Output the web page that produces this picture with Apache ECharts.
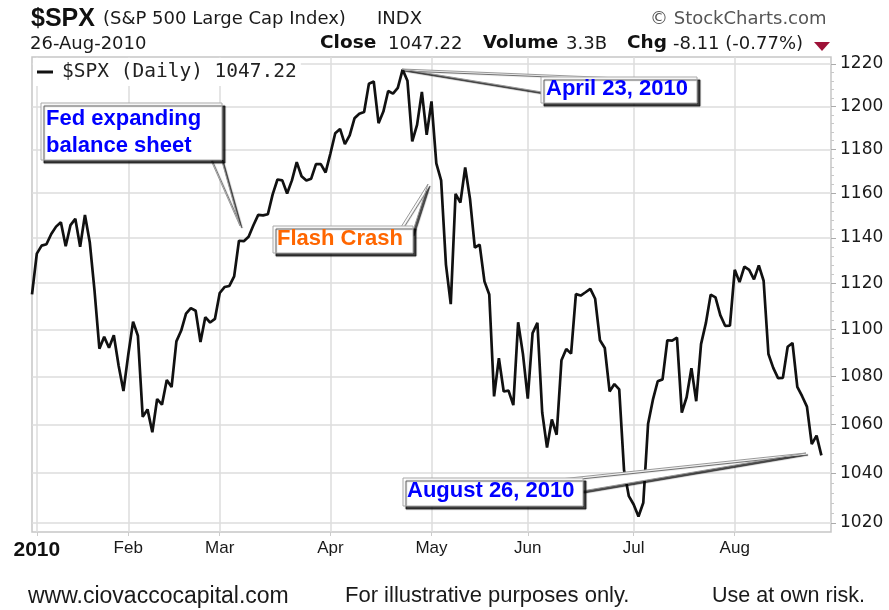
<!DOCTYPE html>
<html><head><meta charset="utf-8">
<script src="https://cdn.jsdelivr.net/npm/echarts@6/dist/echarts.min.js"></script>
<style>html,body{margin:0;padding:0;background:#fff}#c{width:889px;height:610px}</style>
</head><body><div id="c"></div>
<script>
// ---- trading days (day-of-month) ----
const decDays = [31]; // 2009-12-31
const janDays = [4,5,6,7,8,11,12,13,14,15,19,20,21,22,25,26,27,28,29];
const febDays = [1,2,3,4,5,8,9,10,11,12,16,17,18,19,22,23,24,25,26];
const marDays = [1,2,3,4,5,8,9,10,11,12,15,16,17,18,19,22,23,24,25,26,29,30,31];
const aprDays = [1,5,6,7,8,9,12,13,14,15,16,19,20,21,22,23,26,27,28,29,30];
const mayDays = [3,4,5,6,7,10,11,12,13,14,17,18,19,20,21,24,25,26,27,28];
const junDays = [1,2,3,4,7,8,9,10,11,14,15,16,17,18,21,22,23,24,25,28,29,30];
const julDays = [1,2,6,7,8,9,12,13,14,15,16,19,20,21,22,23,26,27,28,29,30];
const augDays = [2,3,4,5,6,9,10,11,12,13,16,17,18,19,20,23,24,25,26];

// ---- $SPX daily closes ----
const decClose = [1115.10];
const janClose = [1132.99,1136.52,1137.14,1141.69,1144.98,1146.98,1136.22,1145.68,1148.46,1136.03,1150.23,1138.04,1116.48,1091.76,1096.78,1092.17,1097.50,1084.53,1073.87];
const febClose = [1089.19,1103.32,1097.28,1063.11,1066.19,1056.74,1070.52,1068.13,1078.47,1075.51,1094.87,1099.51,1106.75,1109.17,1108.01,1094.60,1105.24,1102.94,1104.49];
const marClose = [1115.71,1118.31,1118.79,1122.97,1138.70,1138.50,1140.45,1145.61,1150.24,1149.99,1150.51,1159.46,1166.21,1165.83,1159.90,1165.81,1174.17,1167.72,1165.73,1166.59,1173.22,1173.27,1169.43];
const aprClose = [1178.10,1187.44,1189.44,1182.45,1186.44,1194.37,1196.48,1197.30,1210.65,1211.67,1192.13,1197.52,1207.17,1205.94,1208.67,1217.28,1212.05,1183.71,1191.36,1206.78,1186.69];
const mayClose = [1202.26,1173.60,1165.87,1128.15,1110.88,1159.73,1155.79,1171.67,1157.44,1135.68,1136.94,1120.80,1115.05,1071.59,1087.69,1073.65,1074.03,1067.95,1103.06,1089.41];
const junClose = [1070.71,1098.38,1102.83,1064.88,1050.47,1062.00,1055.69,1086.84,1091.60,1089.63,1115.23,1114.61,1116.04,1117.51,1113.20,1095.31,1092.04,1073.69,1076.76,1074.57,1041.24,1030.71];
const julClose = [1027.37,1022.58,1028.06,1060.27,1070.25,1077.96,1078.75,1095.34,1095.17,1096.48,1064.88,1071.25,1083.48,1069.59,1093.67,1102.66,1115.01,1113.84,1106.13,1101.53,1101.60];
const augClose = [1125.86,1120.46,1127.24,1125.81,1121.64,1127.79,1121.06,1089.47,1083.61,1079.25,1079.38,1092.54,1094.16,1075.63,1071.69,1067.36,1051.87,1055.33,1047.22];

const monthNames = ['Jan','Feb','Mar','Apr','May','Jun','Jul','Aug','Sep','Oct','Nov','Dec'];
const yTickValues = [1020,1040,1060,1080,1100,1120,1140,1160,1180,1200,1220];
const yMinorValues = [1024,1028,1032,1036,1044,1048,1052,1056,1064,1068,1072,1076,1084,1088,1092,1096,1104,1108,1112,1116,1124,1128,1132,1136,1144,1148,1152,1156,1164,1168,1172,1176,1184,1188,1192,1196,1204,1208,1212,1216];
const seriesName = '$SPX (Daily) 1047.22';

// ---- build categories ----
const monthBlocks = [
  [2009,12,decDays],[2010,1,janDays],[2010,2,febDays],[2010,3,marDays],[2010,4,aprDays],
  [2010,5,mayDays],[2010,6,junDays],[2010,7,julDays],[2010,8,augDays]
];
const dates = [];
monthBlocks.forEach(([y,m,days]) => days.forEach(d => dates.push(y+'-'+String(m).padStart(2,'0')+'-'+String(d).padStart(2,'0'))));
const closes = [].concat(decClose,janClose,febClose,marClose,aprClose,mayClose,junClose,julClose,augClose);
const categories = dates.concat([' ','  ']); // right-hand padding of the axis

function monthOf(s){ return s.trim() ? +s.slice(5,7) : null; }
function isMonthStart(i){
  if (i <= 0 || i >= dates.length) return false;
  return monthOf(dates[i]) !== monthOf(dates[i-1]);
}

const chart = echarts.init(document.getElementById('c'), null, {renderer:'canvas'});

const hdr = (x,y,text,font,size,weight,color) => ({
  type:'text', left:x, top:y, z:10,
  style:{text:text, fontFamily:font, fontSize:size, fontWeight:weight||'normal', fill:color||'#1a1a1a'}
});

const boxStyle = {fill:'#fff', stroke:'#a8a8a8', lineWidth:1, shadowColor:'rgba(0,0,0,0.75)', shadowOffsetX:3, shadowOffsetY:3, shadowBlur:1};
const wedgeStyle = {fill:'#fff', stroke:'#999', lineWidth:1, shadowColor:'rgba(0,0,0,0.7)', shadowOffsetX:2, shadowOffsetY:2, shadowBlur:1};
const annFont = 'Liberation Sans';

const option = {
  animation:false,
  backgroundColor:'#fff',
  grid:{left:32, right:58, top:57, bottom:78, show:true, borderColor:'#c6c6c6', borderWidth:1.5, backgroundColor:'#fff'},
  legend:{
    data:[seriesName], left:33, top:58, icon:'rect', itemWidth:16, itemHeight:3, itemGap:0,
    backgroundColor:'#fff', padding:[4,4,4,4],
    textStyle:{fontFamily:'DejaVu Sans Mono', fontSize:19.5, color:'#222', padding:[0,0,0,4]}
  },
  xAxis:{
    type:'category', data:categories, boundaryGap:false,
    axisLine:{show:false},
    axisTick:{show:true, inside:false, length:4, interval:(i)=>isMonthStart(i), lineStyle:{color:'#ccc'}},
    axisLabel:{
      interval:(i)=>isMonthStart(i), margin:8, color:'#1a1a1a',
      fontFamily:'Liberation Sans', fontSize:17,
      formatter:(v)=>{ const m = monthOf(v); return m===1 ? '{y|2010}' : monthNames[m-1]; },
      rich:{y:{fontFamily:'Liberation Sans', fontWeight:'bold', fontSize:21, color:'#111'}}
    },
    splitLine:{show:true, interval:(i)=>isMonthStart(i), lineStyle:{color:'#dcdcdc', width:1.5}}
  },
  yAxis:[{
    type:'log', logBase:10, min:1016.4, max:1223.3, position:'right',
    axisLine:{show:false},
    axisTick:{show:true, length:5, customValues:yTickValues, lineStyle:{color:'#aaa'}},
    axisLabel:{customValues:yTickValues, color:'#1a1a1a', fontFamily:'DejaVu Sans', fontSize:17, margin:9,
      formatter:(v)=>String(Math.round(v))},
    splitLine:{show:true, lineStyle:{color:'#dcdcdc', width:1.5}}
  },{
    type:'log', logBase:10, min:1016.4, max:1223.3, position:'right', offset:0,
    axisLine:{show:false},
    axisTick:{show:true, length:3, customValues:yMinorValues, lineStyle:{color:'#c8c8c8'}},
    axisLabel:{show:false, customValues:yMinorValues},
    splitLine:{show:false}
  }],
  series:[{
    name:seriesName, type:'line', data:closes, yAxisIndex:0,
    showSymbol:false, symbol:'none', smooth:false,
    lineStyle:{color:'#111', width:2.7}, itemStyle:{color:'#111'}, z:3
  }],
  graphic:[
    // header
    hdr(31,7,'$SPX','Liberation Sans',25,'bold','#111'),
    hdr(103,10,'(S&P 500 Large Cap Index)','DejaVu Sans',18),
    hdr(377,10,'INDX','DejaVu Sans',18),
    hdr(650,10,'\u00A9 StockCharts.com','DejaVu Sans',18,'normal','#555'),
    hdr(30,35,'26-Aug-2010','DejaVu Sans',18),
    hdr(320,34,'Close','DejaVu Sans',18.5,'bold','#111'),
    hdr(388,35,'1047.22','DejaVu Sans',18),
    hdr(483,34,'Volume','DejaVu Sans',18,'bold','#111'),
    hdr(566,35,'3.3B','DejaVu Sans',18),
    hdr(627,34,'Chg','DejaVu Sans',18.5,'bold','#111'),
    hdr(673,35,'-8.11 (-0.77%)','DejaVu Sans',18),
    {type:'polygon', z:10, shape:{points:[[814,42],[830,42],[822,51]]}, style:{fill:'#9e1238'}},
    // footer
    hdr(28,585,'www.ciovaccocapital.com','Liberation Sans',23),
    hdr(345,585,'For illustrative purposes only.','Liberation Sans',22),
    hdr(712,585,'Use at own risk.','Liberation Sans',21.5),

    // Fed expanding balance sheet
    {type:'polygon', z:20, shape:{points:[[210,158],[221,158],[240,226]]}, style:wedgeStyle},
    {type:'rect', z:21, shape:{x:41, y:103, width:181, height:57}, style:boxStyle},
    {type:'text', z:22, left:46, top:105, style:{text:'Fed expanding\nbalance sheet', fontFamily:annFont, fontWeight:'bold', fontSize:22, lineHeight:27, fill:'#0000ff'}},

    // Flash Crash
    {type:'polygon', z:20, shape:{points:[[401,227],[412,234],[428,184]]}, style:wedgeStyle},
    {type:'rect', z:21, shape:{x:273, y:226, width:140, height:27}, style:boxStyle},
    {type:'text', z:22, left:277, top:228, style:{text:'Flash Crash', fontFamily:annFont, fontWeight:'bold', fontSize:22, fill:'#ff6600'}},

    // April 23, 2010
    {type:'polygon', z:20, shape:{points:[[402,69],[620,78],[542,92]]}, style:wedgeStyle},
    {type:'rect', z:21, shape:{x:541, y:77, width:156, height:26}, style:boxStyle},
    {type:'text', z:22, left:546, top:78, style:{text:'April 23, 2010', fontFamily:annFont, fontWeight:'bold', fontSize:22, fill:'#0000ff'}},

    // August 26, 2010
    {type:'polygon', z:20, shape:{points:[[560,479],[582,491],[806,453]]}, style:wedgeStyle},
    {type:'rect', z:21, shape:{x:403, y:478, width:180, height:28}, style:boxStyle},
    {type:'text', z:22, left:407, top:480, style:{text:'August 26, 2010', fontFamily:annFont, fontWeight:'bold', fontSize:22, fill:'#0000ff'}}
  ]
};
chart.setOption(option);
</script>
</body></html>
